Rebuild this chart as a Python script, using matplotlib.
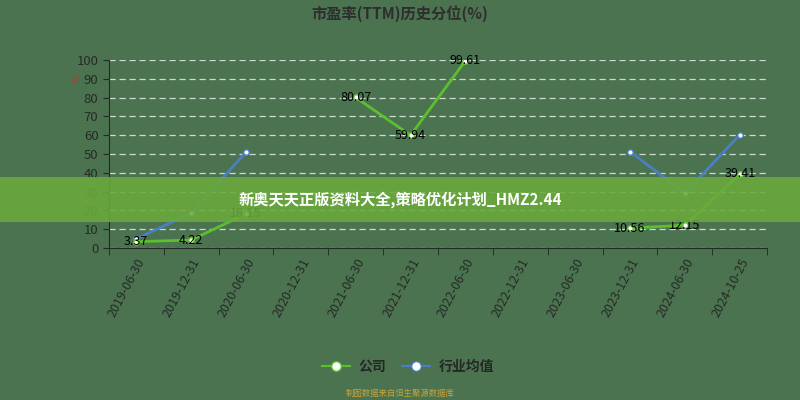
import matplotlib
matplotlib.use("Agg")
import matplotlib.pyplot as plt
import numpy as np
from matplotlib.lines import Line2D
from matplotlib.patches import Rectangle

plt.rcParams["font.family"] = ["Noto Sans CJK SC", "DejaVu Sans"]

dates = ["2019-06-30", "2019-12-31", "2020-06-30", "2020-12-31", "2021-06-30",
         "2021-12-31", "2022-06-30", "2022-12-31", "2023-06-30", "2023-12-31",
         "2024-06-30", "2024-10-25"]
company = [3.37, 4.22, 18.15, None, 80.07, 59.94, 99.61, None, None, 10.56, 12.15, 39.41]
industry = [4.8, 18.6, 51.0, None, None, None, None, None, None, 51.3, 29.1, 60.2]

title = "市盈率(TTM)历史分位(%)"
banner_text = "新奥天天正版资料大全,策略优化计划_HMZ2.44"
source_text = "制图数据来自恒生聚源数据库"

bg = "#4b7350"
green = "#5cbf2e"
blue = "#4a7fc4"
text_dark = "#262a26"

fig = plt.figure(figsize=(8, 4), dpi=100, facecolor=bg)
ax = fig.add_axes([0.136, 0.38, 0.823, 0.47], facecolor=bg)

x = np.arange(len(dates))
comp = np.array([np.nan if v is None else v for v in company], dtype=float)
ind = np.array([np.nan if v is None else v for v in industry], dtype=float)

ax.plot(x, ind, color=blue, lw=2, marker="o", ms=4, mfc="white", mec=blue, mew=1, zorder=3)
ax.plot(x, comp, color=green, lw=2, marker="o", ms=4, mfc="white", mec=green, mew=1, zorder=4)

for xi, v in zip(x, comp):
    if not np.isnan(v):
        ax.text(xi, v, f"{v:.2f}", ha="center", va="center", fontsize=9,
                color="black", zorder=5)

ax.set_xlim(-0.5, len(dates) - 0.5)
ax.set_ylim(0, 100)
ax.set_yticks(np.arange(0, 101, 10))
ax.yaxis.grid(True, color="#e8ece8", ls=(0, (5, 3)), lw=0.9, alpha=0.85)
ax.set_axisbelow(True)

ax.set_xticks(x)
ax.set_xticklabels(dates, rotation=62, ha="right", rotation_mode="anchor")
ax.set_xticks(np.arange(-0.5, len(dates)), minor=True)
ax.tick_params(axis="x", which="major", length=0, pad=6, labelsize=9, colors=text_dark)
ax.tick_params(axis="x", which="minor", length=5, color=text_dark)
ax.tick_params(axis="y", length=4, labelsize=9.5, colors=text_dark)

for s in ("top", "right"):
    ax.spines[s].set_visible(False)
for s in ("left", "bottom"):
    ax.spines[s].set_color(text_dark)

fig.text(0.5, 0.967, title, ha="center", va="center", fontsize=11,
         fontweight="bold", color="#2e2e2e")
fig.text(0.097, 0.805, "%", ha="center", va="center", fontsize=7,
         color="#c0392b", rotation=90)

handles = [
    Line2D([], [], color=green, lw=1.5, marker="o", ms=7, mfc="white", mec=green),
    Line2D([], [], color=blue, lw=1.5, marker="o", ms=7, mfc="white", mec=blue),
]
fig.legend(handles, ["公司", "行业均值"], loc="center", bbox_to_anchor=(0.51, 0.082),
           ncol=2, frameon=False, prop={"size": 10, "weight": "bold"},
           handlelength=2.0, handletextpad=0.6, columnspacing=1.2,
           labelcolor="#262626")
fig.text(0.5, 0.017, source_text, ha="center", va="center", fontsize=6,
         color="#c9a23a")

fig.patches.append(Rectangle((0, 0.445), 1, 0.112, transform=fig.transFigure,
                             facecolor="#6aaa3c", alpha=0.88, zorder=10))
fig.text(0.5, 0.5, banner_text, ha="center", va="center", fontsize=11,
         fontweight="bold", color="white", zorder=11)

fig.savefig("out.png", dpi=100, facecolor=bg)
